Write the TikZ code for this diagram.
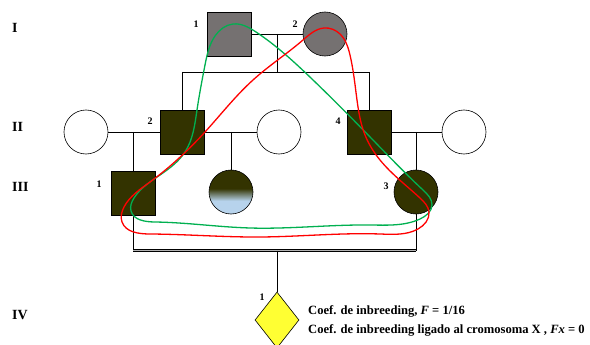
\documentclass[tikz,border=0pt]{standalone}
\usepackage{fontspec}
\setmainfont{Liberation Serif}
\usetikzlibrary{shapes.geometric,hobby}

\definecolor{pedolive}{HTML}{333300}
\definecolor{pedgray}{RGB}{117,113,113}
\definecolor{pedsky}{RGB}{183,211,236}
\definecolor{pedyellow}{HTML}{FFFF33}
\definecolor{pedgreen}{HTML}{00B050}
\definecolor{pedred}{HTML}{FF0000}

% dark top, light blue bottom (box of the path maps to 25bp..75bp)
\pgfdeclareverticalshading{halfsky}{100bp}{color(0bp)=(pedsky); color(40bp)=(pedsky); color(54bp)=(pedolive); color(100bp)=(pedolive)}

\begin{document}
\begin{tikzpicture}[x=1pt, y=-1pt,
  male/.style={rectangle, draw=black, line width=0.6pt, minimum size=44pt, inner sep=0pt},
  female/.style={circle, draw=black, line width=0.6pt, minimum size=44pt, inner sep=0pt},
  num/.style={font=\bfseries\fontsize{10}{12}\selectfont, inner sep=0pt},
  gen/.style={font=\bfseries\fontsize{14}{16}\selectfont, anchor=west, inner sep=0pt},
  note/.style={font=\bfseries\fontsize{12.6}{14}\selectfont, anchor=west, inner sep=0pt},
  kin/.style={line width=0.8pt},
  twin/.style={line width=0.7pt, double=gray!60, double distance=1.3pt},
  path loop/.style={line width=1.3pt, use Hobby shortcut, closed=true}]
\clip (0,0) rectangle (590,345);

% generation labels
\node[gen] (gI)   at (12,28)  {I};
\node[gen] (gII)  at (12,127) {II};
\node[gen] (gIII) at (12,187) {III};
\node[gen] (gIV)  at (12,315) {IV};

% generation I
\node[male, fill=pedgray] (I1) at (229.5,34) {};
\node[female, fill=pedgray] (I2) at (325,34) {};
\node[num] (nI1) at (196,24) {1};
\node[num] (nI2) at (295,24) {2};
\draw[kin] (I1.east) -- (I2.west);
\coordinate (m1) at (277,34);
\coordinate (s1) at (277,72);
\coordinate (s1l) at (182,72);
\coordinate (s1r) at (369,72);
\draw[kin] (m1) -- (s1);
\draw[kin] (s1l) -- (s1r);

% generation II
\node[female] (II1) at (86,132) {};
\node[male, fill=pedolive] (II2) at (182,132) {};
\node[female] (II3) at (279,132) {};
\node[male, fill=pedolive] (II4) at (369,132) {};
\node[female] (II5) at (464,132) {};
\node[num] (nII2) at (150,121) {2};
\node[num] (nII4) at (338,121) {4};
\draw[kin] (s1l) -- (II2.north);
\draw[kin] (s1r) -- (II4.north);
\draw[kin] (II1.east) -- (II2.west);
\draw[kin] (II2.east) -- (II3.west);
\draw[kin] (II4.east) -- (II5.west);

% generation III
\node[male, fill=pedolive] (III1) at (133,193) {};
\node[female, shading=halfsky] (III2) at (231,192) {};
\node[female, fill=pedolive] (III3) at (416,192) {};
\node[num] (nIII1) at (99,184) {1};
\node[num] (nIII3) at (386,186) {3};
\coordinate (m2) at (133,132);
\coordinate (m3) at (231,132);
\coordinate (m4) at (416,132);
\draw[kin] (m2) -- (III1.north);
\draw[kin] (m3) -- (III2.north);
\draw[kin] (m4) -- (III3.north);

% consanguineous union and generation IV
\coordinate (c1) at (133,250.5);
\coordinate (c2) at (416,250.5);
\coordinate (c0) at (277,250.5);
\draw[kin] (III1.south) -- (c1);
\draw[kin] (III3.south) -- (c2);
\draw[twin] (c1) -- (c2);
\node[diamond, draw=black, line width=0.6pt, fill=pedyellow, minimum width=44pt, minimum height=56pt, inner sep=0pt] (IV1) at (277,320) {};
\draw[kin] (c0) -- (IV1.north);
\node[num] (nIV1) at (262,297) {1};

\node[note] (t1) at (308,311) {Coef. de inbreeding, \textit{F} = 1/16};
\node[note] (t2) at (308,330) {Coef. de inbreeding ligado al cromosoma X , \textit{Fx} = 0};

% inbreeding path through I-1
\draw[pedgreen, path loop]
  (233,24) .. (256,32) .. (312,79) .. (373,140) .. (423,190) .. (432,205)
  .. (420,219) .. (370,225) .. (250,228) .. (155,222) .. (131,211)
  .. (134,198) .. (160,175) .. (185,152) .. (197,110)
  .. (205,65) .. (215,36);

% inbreeding path through I-2
\draw[pedred, path loop]
  (324,28) .. (340,34) .. (350,55) .. (357,100) .. (365,135) .. (380,160)
  .. (420,198) .. (429,212) .. (418,229) .. (380,234) .. (260,237)
  .. (150,234) .. (122,222) .. (124,207) .. (150,182)
  .. (205,132) .. (253,80) .. (303,40);
\end{tikzpicture}
\end{document}
